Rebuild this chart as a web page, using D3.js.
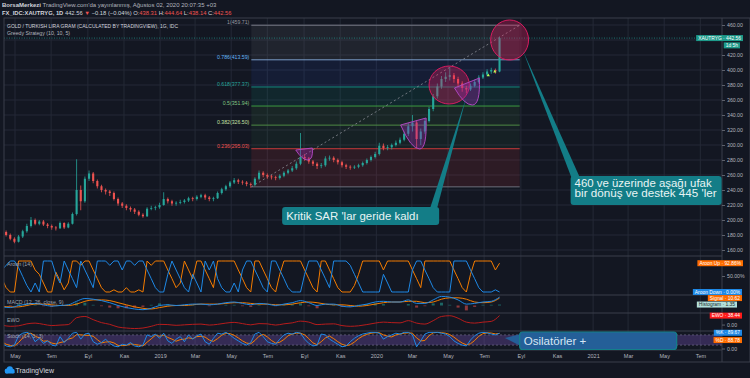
<!DOCTYPE html>
<html><head><meta charset="utf-8">
<script src="https://cdn.jsdelivr.net/npm/d3@7"></script>
<style>body{margin:0;background:#131722;} svg{display:block;font-family:"Liberation Sans","DejaVu Sans",Arial,sans-serif;}</style>
</head><body><svg id="c" width="750" height="378"></svg>
<script>
// ---------------- DATA ----------------
const startWeek = "2018-04-09";
const firstOpen = 186;
const closes = [
184,180,175,171,178,185,192,200,195,198,
194,192,190,189,196,190,195,208,240,225,
255,262,252,245,240,238,236,228,222,219,
216,214,211,207,205,215,216,217,220,228,
225,222,223,224,226,229,228,231,233,230,
228,229,236,241,245,250,253,251,250,248,
247,255,263,260,258,257,256,259,263,266,
269,275,284,282,278,275,272,273,282,283,
280,277,273,271,270,271,273,276,280,284,
288,299,296,297,300,303,307,315,325,330,
308,318,332,348,365,378,388,391,393,388,
382,376,374,379,384,390,394,398,400,398,
442.56];
const highs = [
188,186,182,177,180,187,195,204,202,200,
200,196,194,192,198,197,197,210,281,246,
258,266,264,254,247,242,240,238,230,224,
221,218,216,213,209,217,219,219,223,237,
230,227,225,227,228,231,231,233,235,235,
232,231,238,243,247,252,256,255,253,252,
250,257,266,265,262,260,259,261,265,268,
272,278,316,288,284,280,277,276,285,286,
285,282,279,275,273,273,275,278,282,286,
291,303,302,300,302,306,310,318,329,340,
333,322,335,351,368,382,392,397,404,396,
391,385,379,382,387,393,397,401,403,402,
444.64];
const lows = [
181,178,173,169,170,176,183,190,193,193,
192,189,187,186,188,188,189,194,206,213,
223,252,249,242,237,234,232,226,219,216,
213,211,208,205,203,204,213,213,215,219,
222,219,219,221,222,224,225,226,229,227,
225,225,228,234,239,243,248,248,247,245,
243,245,253,257,255,254,253,254,257,261,
264,267,273,279,275,272,268,269,271,279,
277,274,270,268,267,268,269,271,274,278,
282,286,293,293,294,298,301,305,312,318,
296,300,315,330,345,362,375,384,386,383,
377,371,369,372,377,382,388,392,395,395,
397];

const aroonUp = [
43,14,0,0,
100,100,100,100,71,
57,29,0,0,64,36,7,29,
100,100,86,100,100,
71,43,14,0,0,7,0,0,14,0,0,7,0,
100,86,100,100,100,71,43,14,29,100,71,43,100,
100,71,43,14,100,100,100,100,100,71,43,14,0,
100,100,71,43,14,0,57,100,100,100,
100,100,71,43,14,0,100,100,71,43,
14,0,0,0,21,57,100,100,100,100,
100,71,100,100,100,100,100,100,71,43,
14,100,100,100,100,100,100,100,71,43,
14,0,57,100,100,100,100,100,71,92.86];
const aroonDown = [
71,86,100,100,
79,50,21,0,29,
0,100,100,100,57,29,100,71,
43,14,100,71,43,
14,100,100,100,86,100,100,71,100,100,86,100,100,
71,43,14,0,0,57,100,71,43,14,0,57,29,
0,100,71,100,43,14,0,0,29,0,71,100,100,
71,43,14,0,100,100,71,43,14,0,
0,0,57,100,100,100,71,43,14,100,
100,100,100,86,57,29,0,0,0,0,
0,57,29,0,0,0,0,0,71,100,
100,71,43,14,0,0,0,0,100,100,
100,100,71,43,14,0,0,0,7,0];

// bi-weekly smooth oscillators
const macdLine = [-2,-3,0,2,3,1,-1,0,1,6,10,9,7,4,0,-3,-5,-6,-4,0,1,0,1,2,2,1,2,4,5,3,1,3,2,0,2,4,7,4,0,2,2,-1,-2,0,2,5,6,5,5,8,3,3,8,13,12,8,2,3,5,6,11.97];
const macdSignal = [-1,-2,-2,0,2,2,1,0,0,2,6,8,8,7,4,1,-2,-4,-5,-3,-1,0,0,1,2,2,2,3,4,4,3,2,2,1,1,2,4,5,4,2,1,1,0,-1,0,2,4,5,5,6,6,4,5,9,11,11,9,5,4,5,10.62];
const ewo = [0,-5,-3,5,8,3,-2,0,2,30,35,22,10,3,-8,-12,-14,-12,-5,3,2,-1,1,3,4,0,3,8,11,6,1,6,5,0,5,9,16,12,2,4,5,-2,-5,-3,2,8,12,10,9,18,8,4,18,35,38,28,12,8,12,15,38.44];

const stochK = [
30,15,10,20,75,90,95,85,40,60,30,45,20,15,70,35,60,90,95,55,85,
90,40,25,35,55,30,15,10,25,20,35,15,10,20,80,70,85,60,90,45,
30,55,70,40,80,55,75,85,40,25,60,90,85,95,80,60,45,30,20,35,
85,95,70,40,30,25,55,80,90,85,95,90,55,30,15,20,85,80,55,40,
25,10,15,40,60,75,85,90,95,95,90,55,70,80,90,85,95,95,80,10,
45,85,95,95,95,90,85,70,45,30,20,15,50,75,90,95,92,85,80,89.67];
const stochD = [
40,25,18,15,35,62,87,90,73,62,43,45,32,27,35,40,55,62,82,80,78,
77,72,52,33,38,40,33,18,17,18,27,23,20,15,37,57,78,72,78,65,
55,43,52,55,63,58,70,72,67,50,42,58,78,90,87,78,62,45,32,28,
47,72,83,68,47,32,37,53,75,85,90,90,80,58,33,22,40,62,73,58,
40,25,17,22,38,58,73,83,90,93,93,80,72,68,80,85,90,92,90,62,
45,47,75,92,95,93,90,82,67,48,32,22,28,47,72,87,92,91,86,88.78];

const timeTickDates = ["2018-05-01","2018-07-01","2018-09-01","2018-11-01","2019-01-01","2019-03-01","2019-05-01","2019-07-01","2019-09-01","2019-11-01","2020-01-01","2020-03-01","2020-05-01","2020-07-01","2020-09-01","2020-11-01","2021-01-01","2021-03-01","2021-05-01","2021-07-01"];
const timeTickLabels = ["May","Tem","Eyl","Kas","2019","Mar","May","Tem","Eyl","Kas","2020","Mar","May","Tem","Eyl","Kas","2021","Mar","May","Tem"];
const priceTicks = [160,180,200,220,240,260,280,300,320,340,360,380,400,420,440,460];
const priceTicksHiddenByTag = [440];

const fibLevels = ["1","0.786","0.618","0.5","0.382","0.236","0"];
const fibPrices = [459.71,413.59,377.37,351.94,326.50,295.03,244.20];
const fibStart = "2019-06-04", fibEnd = "2020-08-30";

// ---------------- SETUP ----------------
const P = d3.timeParse("%Y-%m-%d");
const svg = d3.select("#c");
const W = 750, H = 378, L = 4, R = 722, T = 18, BOT = 362;
const up = "#26a69a", dn = "#ef5350";
const gridC = "#242936", sepC = "#3b3f4b", axisTxt = "#b2b5be";

const x = d3.scaleTime().domain([P("2018-05-01"), P("2020-05-01")]).range([15, 448]);
const y = d3.scaleLinear().domain([160, 460]).range([250, 25]);
const ya = d3.scaleLinear().domain([0, 100]).range([292, 261]);
const ym = d3.scaleLinear().domain([-8, 16]).range([311.1, 294.3]);
const ye = d3.scaleLinear().domain([-20, 45]).range([330, 314]);
const ys = d3.scaleLinear().domain([0, 100]).range([348.5, 331.5]);

const s0 = P(startWeek);
const wk = i => d3.timeDay.offset(s0, 7 * i);
const bw = k => d3.timeDay.offset(s0, 14 * k);

svg.append("rect").attr("width", W).attr("height", H).attr("fill", "#131722");

const defs = svg.append("defs");
function clip(id, y0, y1) {
  defs.append("clipPath").attr("id", id).append("rect").attr("x", L).attr("y", y0).attr("width", R - L).attr("height", y1 - y0);
}
clip("cMain", T, 256); clip("cAr", 256, 295); clip("cMa", 295, 313); clip("cEw", 313, 331); clip("cSt", 331, 350);

// grid
const grid = svg.append("g");
const tDates = timeTickDates.map(P);
grid.selectAll("line.v").data(tDates).join("line")
  .attr("x1", d => x(d)).attr("x2", d => x(d)).attr("y1", T).attr("y2", 350)
  .attr("stroke", gridC).attr("stroke-width", 1);
grid.selectAll("line.h").data(priceTicks).join("line")
  .attr("x1", L).attr("x2", R).attr("y1", d => y(d)).attr("y2", d => y(d))
  .attr("stroke", gridC).attr("stroke-width", 1);

// ---------------- MAIN PANE ----------------
const gm = svg.append("g").attr("clip-path", "url(#cMain)");
const fx0 = x(P(fibStart)), fx1 = x(P(fibEnd));
const fibFill = ["rgba(120,123,134,0.13)", "rgba(41,98,255,0.09)", "rgba(8,153,129,0.12)", "rgba(76,175,80,0.10)", "rgba(76,175,80,0.07)", "rgba(242,54,69,0.12)"];
const fibLine = ["#787b86", "#7a9cc6", "#13897c", "#3d9a41", "#4e8a45", "#c73a3a", "#6b6f7b"];
const fibLab = ["#9598a1", "#64b5f6", "#26a69a", "#81c784", "#c5e1a5", "#ef5350", "#9598a1"];
for (let j = 0; j < fibPrices.length - 1; j++) {
  gm.append("rect").attr("x", fx0).attr("width", fx1 - fx0)
    .attr("y", y(fibPrices[j])).attr("height", y(fibPrices[j + 1]) - y(fibPrices[j]))
    .attr("fill", fibFill[j]);
}
fibPrices.forEach((p, j) => {
  gm.append("line").attr("x1", fx0).attr("x2", fx1).attr("y1", y(p)).attr("y2", y(p))
    .attr("stroke", fibLine[j]).attr("stroke-width", 1);
  if (j < fibPrices.length - 1)
    gm.append("text").attr("x", fx0 - 2).attr("y", y(p) - 1).attr("text-anchor", "end")
      .attr("font-size", 5.2).attr("fill", fibLab[j]).text(fibLevels[j] + "(" + p.toFixed(2) + ")");
});
gm.append("line").attr("x1", fx0).attr("y1", y(fibPrices[6])).attr("x2", fx1).attr("y2", y(fibPrices[0]))
  .attr("stroke", "#8a8d96").attr("stroke-width", 0.8).attr("stroke-dasharray", "2,2.5");

// price line
gm.append("line").attr("x1", L).attr("x2", R).attr("y1", y(442.56)).attr("y2", y(442.56))
  .attr("stroke", up).attr("stroke-width", 0.8).attr("stroke-dasharray", "1,1.5").attr("opacity", 0.8);

// candles
const candles = closes.map((c, i) => ({ d: wk(i), o: i ? closes[i - 1] : firstOpen, h: highs[i], l: lows[i], c }));
gm.selectAll("line.wick").data(candles).join("line")
  .attr("x1", d => x(d.d)).attr("x2", d => x(d.d)).attr("y1", d => y(d.h)).attr("y2", d => y(d.l))
  .attr("stroke", d => d.c >= d.o ? up : dn).attr("stroke-width", 0.8);
gm.selectAll("rect.body").data(candles).join("rect")
  .attr("x", d => x(d.d) - 1.05).attr("width", 2.1)
  .attr("y", d => y(Math.max(d.o, d.c)))
  .attr("height", d => Math.max(0.8, Math.abs(y(d.o) - y(d.c))))
  .attr("fill", d => d.c >= d.o ? up : dn);

// ellipses
const ellipses = [
  { c: "2020-08-13", p: 440, rd: 32, rp: 26.7 },
  { c: "2020-05-03", p: 380, rd: 34, rp: 25.3 }
];
ellipses.forEach(e => {
  const cx = x(P(e.c)), cy = y(e.p);
  const rx = x(d3.timeDay.offset(P(e.c), e.rd)) - cx, ry = y(e.p - e.rp) - cy;
  gm.append("ellipse").attr("cx", cx).attr("cy", cy).attr("rx", rx).attr("ry", ry)
    .attr("fill", "rgba(233,30,99,0.32)").attr("stroke", "#d81b60").attr("stroke-width", 1);
});
// purple cups
const cups = [
  [["2019-08-18", 293.3], ["2019-09-07", 280], ["2019-09-15", 296]],
  [["2020-02-11", 326.7], ["2020-03-14", 294.7], ["2020-03-25", 336]],
  [["2020-05-12", 376], ["2020-06-11", 353.3], ["2020-06-23", 389.3]]
];
cups.forEach(cp => {
  const [a, b, c] = cp.map(q => [x(P(q[0])), y(q[1])]);
  const path = `M${a[0]},${a[1]} Q${a[0] + (b[0] - a[0]) * 0.55},${b[1]} ${b[0]},${b[1]} Q${c[0] + 1},${b[1]} ${c[0]},${c[1]} Z`;
  gm.append("path").attr("d", path).attr("fill", "rgba(156,39,176,0.35)").attr("stroke", "#ab47bc").attr("stroke-width", 1);
});
// SAR triangles
[["2020-07-08", 393.5], ["2020-07-19", 398.5]].forEach(t => {
  const tx = x(P(t[0])), ty = y(t[1]);
  gm.append("path").attr("d", `M${tx - 1.6},${ty + 1.4} L${tx + 1.6},${ty + 1.4} L${tx},${ty - 1.4} Z`).attr("fill", "#b2ff59");
});

// ---------------- AROON ----------------
const ga = svg.append("g").attr("clip-path", "url(#cAr)");
const lineW = (sc, arr, f) => d3.line().x((d, i) => x(f(i))).y(d => sc(d))(arr);
ga.append("path").attr("d", lineW(ya, aroonUp, wk)).attr("fill", "none").attr("stroke", "#f57c00").attr("stroke-width", 1);
ga.append("path").attr("d", lineW(ya, aroonDown, wk)).attr("fill", "none").attr("stroke", "#1e88e5").attr("stroke-width", 1);

// ---------------- MACD ----------------
const gma = svg.append("g").attr("clip-path", "url(#cMa)");
gma.selectAll("rect.h").data(macdLine).join("rect")
  .attr("x", (d, k) => x(bw(k)) - 1.5).attr("width", 3)
  .attr("y", (d, k) => Math.min(ym(d - macdSignal[k]), ym(0)))
  .attr("height", (d, k) => Math.abs(ym(d - macdSignal[k]) - ym(0)))
  .attr("fill", (d, k) => d - macdSignal[k] >= 0 ? "rgba(38,166,154,0.55)" : "rgba(239,83,80,0.55)");
gma.append("path").attr("d", d3.line().x((d, k) => x(bw(k))).y(d => ym(d)).curve(d3.curveMonotoneX)(macdSignal)).attr("fill", "none").attr("stroke", "#f57c00").attr("stroke-width", 1);
gma.append("path").attr("d", d3.line().x((d, k) => x(bw(k))).y(d => ym(d)).curve(d3.curveMonotoneX)(macdLine)).attr("fill", "none").attr("stroke", "#1e88e5").attr("stroke-width", 1);

// ---------------- EWO ----------------
const ge = svg.append("g").attr("clip-path", "url(#cEw)");
ge.append("path").attr("d", d3.line().x((d, k) => x(bw(k))).y(d => ye(d)).curve(d3.curveMonotoneX)(ewo)).attr("fill", "none").attr("stroke", "#b71c1c").attr("stroke-width", 1);

// ---------------- STOCH ----------------
const gs = svg.append("g").attr("clip-path", "url(#cSt)");
gs.append("rect").attr("x", L).attr("width", R - L).attr("y", ys(80)).attr("height", ys(20) - ys(80)).attr("fill", "rgba(126,87,194,0.32)");
[80, 20].forEach(v => gs.append("line").attr("x1", L).attr("x2", R).attr("y1", ys(v)).attr("y2", ys(v)).attr("stroke", "#6e6a86").attr("stroke-dasharray", "2,2").attr("stroke-width", 0.7));
gs.append("path").attr("d", lineW(ys, stochD, wk)).attr("fill", "none").attr("stroke", "#f57c00").attr("stroke-width", 1);
gs.append("path").attr("d", lineW(ys, stochK, wk)).attr("fill", "none").attr("stroke", "#1e88e5").attr("stroke-width", 1);

// ---------------- FRAME / SEPARATORS ----------------
[256, 295, 313, 331, 350].forEach(v => svg.append("line").attr("x1", L).attr("x2", R).attr("y1", v).attr("y2", v).attr("stroke", sepC).attr("stroke-width", 1));
svg.append("rect").attr("x", L).attr("y", T).attr("width", W - L).attr("height", BOT - T).attr("fill", "none").attr("stroke", sepC).attr("stroke-width", 1);
svg.append("line").attr("x1", R).attr("x2", R).attr("y1", T).attr("y2", BOT).attr("stroke", sepC);

// axes (labels covered by the last-price tag are not shown, as in TradingView)
const shownTicks = priceTicks.filter(v => !priceTicksHiddenByTag.includes(v));
const yAx = svg.append("g").attr("transform", `translate(${R},0)`)
  .call(d3.axisRight(y).tickValues(shownTicks).tickFormat(d3.format(".2f")).tickSize(3).tickPadding(2));
yAx.select(".domain").remove();
yAx.selectAll("line").attr("stroke", "#5d606b");
yAx.selectAll("text").attr("fill", axisTxt).attr("font-size", 5.2);

const xAx = svg.append("g").attr("transform", "translate(0,350)")
  .call(d3.axisBottom(x).tickValues(tDates).tickFormat((d, i) => timeTickLabels[i]).tickSize(0).tickPadding(4));
xAx.select(".domain").remove();
xAx.selectAll("text").attr("fill", axisTxt).attr("font-size", 5.5);

// extra pane scale labels
[[ya(50), "50.00%"], [ye(0), "0.00"], [ys(0) + 0.5, "0.00"]].forEach(t => {
  svg.append("line").attr("x1", R).attr("x2", R + 3).attr("y1", t[0]).attr("y2", t[0]).attr("stroke", "#5d606b");
  svg.append("text").attr("x", R + 5).attr("y", t[0] + 1.8).attr("font-size", 5.2).attr("fill", axisTxt).text(t[1]);
});

// pane titles
const titles = [[265.5, "Aroon (14)"], [304, "MACD (12, 26, close, 9)"], [322, "EWO"], [338, "Stoch (14, 3, 3)"]];
titles.forEach(t => svg.append("text").attr("x", 7).attr("y", t[0]).attr("font-size", 5.3).attr("fill", "#9ea3ae").text(t[1]));

// right tags
function tag(yc, txt, fill, col, right) {
  const g = svg.append("g");
  const t = g.append("text").attr("y", yc + 1.7).attr("font-size", 4.9).attr("fill", col).text(txt);
  const w = t.node().getComputedTextLength() + 4;
  const rx = right || 743;
  t.attr("x", rx - w + 2);
  g.insert("rect", "text").attr("x", rx - w).attr("y", yc - 3).attr("width", w).attr("height", 6).attr("fill", fill);
}
tag(y(442.56), "XAUTRYG · 442.56", "#1d9a8a", "#ffffff");
tag(y(442.56) + 7.3, "1d 5h", "#1d9a8a", "#ffffff", 740);
tag(ya(92.86), "Aroon Up · 92.86%", "#ff6d00", "#ffffff");
tag(ya(0), "Aroon Down · 0.00%", "#1e88e5", "#ffffff", 742);
tag(ym(10.62), "Signal · 10.62", "#ff6d00", "#ffffff", 742);
tag(ym(1.35), "Histogram · 1.35", "#b2dfdb", "#1b2a2a", 737);
tag(ye(38.44), "EWO · 38.44", "#ff1a1a", "#ffffff", 742);
tag(ys(89.67) - 0.5, "%K · 89.67", "#1e88e5", "#ffffff", 742);
tag(ys(89.67) + 6.8, "%D · 88.78", "#ff6d00", "#ffffff", 742);

// ---------------- CALLOUTS ----------------
const calC = "#137d87";
function callout(bx, by, bwid, bh, tail, fill, stroke) {
  const g = svg.append("g");
  g.append("path").attr("d", `M${tail[0][0]},${tail[0][1]} L${tail[1][0]},${tail[1][1]} L${tail[2][0]},${tail[2][1]} Z`).attr("fill", fill);
  g.append("rect").attr("x", bx).attr("y", by).attr("width", bwid).attr("height", bh).attr("rx", 3)
    .attr("fill", fill).attr("stroke", stroke || "none").attr("stroke-width", 1.2);
  return g;
}
// callout 1
{
  const bx = x(P("2019-07-26")), by = y(217.3);
  const tip = [x(P("2020-06-01")), y(364)];
  const g = callout(bx, by, 157, 18, [[bx + 148, by + 1], [bx + 155, by + 1], tip], calC);
  g.append("text").attr("x", bx + 4).attr("y", by + 13).attr("font-size", 11).attr("fill", "#e8f4f4")
    .attr("textLength", 132.5).attr("lengthAdjust", "spacingAndGlyphs").text("Kritik SAR 'lar geride kaldı");
}
// callout 2
{
  const bx = x(P("2020-11-24")), by = y(258.7);
  const tip = [x(P("2020-09-04")), y(426.7)];
  const g = callout(bx, by, 151, 29, [[bx + 1, by + 2], [bx + 9, by + 1], tip], calC);
  g.append("text").attr("x", bx + 4).attr("y", by + 11.5).attr("font-size", 10).attr("fill", "#e8f4f4")
    .attr("textLength", 137).attr("lengthAdjust", "spacingAndGlyphs").text("460 ve üzerinde aşağı ufak");
  g.append("text").attr("x", bx + 4).attr("y", by + 21.5).attr("font-size", 10).attr("fill", "#e8f4f4")
    .attr("textLength", 142).attr("lengthAdjust", "spacingAndGlyphs").text("bir dönüş ve destek 445 'ler");
}
// callout 3
{
  const bx = x(P("2020-08-30")), by = ys(97);
  const tip = [x(P("2020-08-05")), ys(62)];
  const g = callout(bx, by, 157, 17.5, [[bx + 1, by + 2], [bx + 1, by + 14], tip], "#245f98", "#13808a");
  g.append("text").attr("x", bx + 4).attr("y", by + 12.5).attr("font-size", 11).attr("fill", "#d6e6f5")
    .attr("textLength", 62.7).attr("lengthAdjust", "spacingAndGlyphs").text("Osilatörler +");
}

// ---------------- HEADER ----------------
const h1 = svg.append("text").attr("x", 2).attr("y", 7).attr("font-size", 6);
h1.append("tspan").attr("font-weight", "bold").attr("fill", "#d1d4dc").text("BorsaMerkezi");
h1.append("tspan").attr("fill", "#b2b5be").text(" TradingView.com'da yayınlanmış, Ağustos 02, 2020 20:07:35 +03");
const h2 = svg.append("text").attr("x", 2).attr("y", 14.5).attr("font-size", 5.8);
const red = "#ef5350", wh = "#d1d4dc";
[["FX_IDC:XAUTRYG, 1D ", wh, "bold"], ["442.56 ", wh], ["▼", red], [" −0.18 (−0.04%) ", wh], ["O:", wh], ["438.31", red], [" H:", wh], ["444.64", red], [" L:", wh], ["438.14", red], [" C:", wh], ["442.56", red]]
  .forEach(s => { const t = h2.append("tspan").attr("fill", s[1]).text(s[0]); if (s[2]) t.attr("font-weight", "bold"); });
svg.append("text").attr("x", 7).attr("y", 27.5).attr("font-size", 5.6).attr("fill", "#d1d4dc")
  .attr("textLength", 171).attr("lengthAdjust", "spacingAndGlyphs")
  .text("GOLD / TURKISH LIRA GRAM (CALCULATED BY TRADINGVIEW), 1G, IDC");
svg.append("text").attr("x", 7).attr("y", 35).attr("font-size", 5.6).attr("fill", "#b2b5be")
  .attr("textLength", 63).attr("lengthAdjust", "spacingAndGlyphs").text("Greedy Strategy (10, 10, 5)");

// ---------------- FOOTER LOGO ----------------
const lg = svg.append("g").attr("fill", "#2196f3");
lg.append("circle").attr("cx", 7).attr("cy", 371).attr("r", 2.4);
lg.append("circle").attr("cx", 9.8).attr("cy", 369.3).attr("r", 3.1);
lg.append("circle").attr("cx", 12.4).attr("cy", 371).attr("r", 2.3);
lg.append("rect").attr("x", 5).attr("y", 371).attr("width", 9.5).attr("height", 2.4).attr("rx", 1.2);
svg.append("text").attr("x", 15.5).attr("y", 373.3).attr("font-size", 7).attr("fill", "#d1d4dc").text("TradingView");
</script></body></html>
